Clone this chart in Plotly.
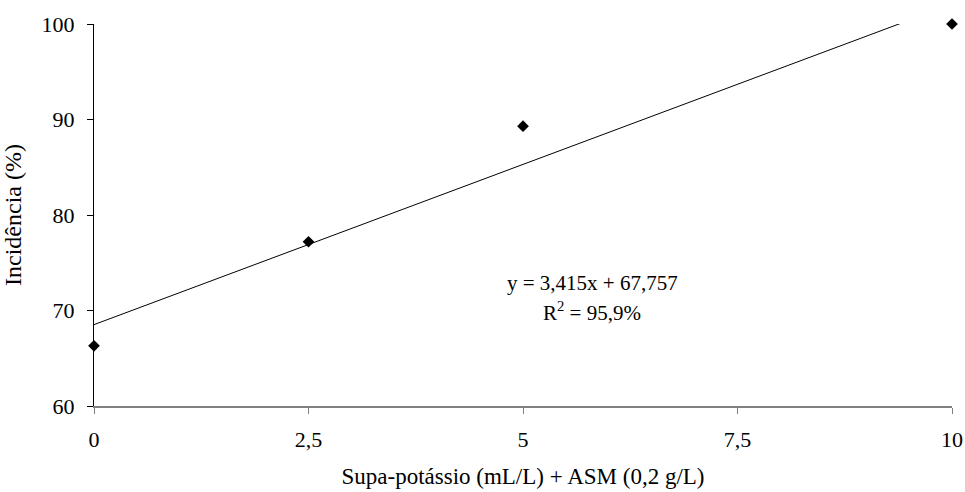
import numpy as np
import plotly.graph_objects as go

dose = [0, 2.5, 5, 10]
incidencia = [66.3, 77.2, 89.3, 100.0]
x_ticks = [0, 2.5, 5, 7.5, 10]
x_tick_labels = ["0", "2,5", "5", "7,5", "10"]
y_ticks = [60, 70, 80, 90, 100]
y_tick_labels = ["60", "70", "80", "90", "100"]
eq_text = "y = 3,415x + 67,757"
r2_text = "R<sup>2</sup> = 95,9%"

slope, intercept = np.polyfit(dose, incidencia, 1)
line_x = [0, 10]
line_y = [intercept + slope * v for v in line_x]

FONT = "Liberation Serif, Times New Roman, serif"

fig = go.Figure()
fig.add_trace(go.Scatter(x=line_x, y=line_y, mode="lines",
                         line=dict(color="black", width=1), hoverinfo="skip",
                         showlegend=False))
fig.add_trace(go.Scatter(x=dose, y=incidencia, mode="markers",
                         marker=dict(symbol="diamond", size=9, color="black"),
                         cliponaxis=False, showlegend=False))

fig.add_annotation(text=eq_text, xref="paper", yref="paper",
                   x=(592 - 94) / 858, y=(406 - 283) / 382, showarrow=False,
                   font=dict(family=FONT, size=21, color="black"),
                   xanchor="center", yanchor="middle")
fig.add_annotation(text=r2_text, xref="paper", yref="paper",
                   x=(592 - 94) / 858, y=(406 - 311) / 382, showarrow=False,
                   font=dict(family=FONT, size=21, color="black"),
                   xanchor="center", yanchor="middle")

fig.update_layout(
    width=965, height=492,
    margin=dict(l=94, r=13, t=24, b=86),
    paper_bgcolor="white", plot_bgcolor="white",
    font=dict(family=FONT, size=20, color="black"),
    xaxis=dict(range=[0, 10], tickvals=x_ticks, ticktext=x_tick_labels,
               automargin=False,
               showgrid=False, zeroline=False, showline=True,
               linecolor="#808080", linewidth=1.5, ticks="outside",
               tickcolor="#808080", ticklen=6, tickwidth=1,
               ticklabelstandoff=7,
               tickfont=dict(family=FONT, size=22, color="black"),
               title=dict(text="Supa-potássio (mL/L) + ASM (0,2 g/L)",
                          font=dict(family=FONT, size=23, color="black"),
                          standoff=17)),
    yaxis=dict(range=[60, 100], tickvals=y_ticks, ticktext=y_tick_labels,
               automargin=False,
               showgrid=False, zeroline=False, showline=True,
               linecolor="black", linewidth=1, ticks="outside",
               tickcolor="black", ticklen=6, tickwidth=1,
               ticklabelstandoff=8,
               tickfont=dict(family=FONT, size=22, color="black"),
               title=dict(text="Incidência (%)",
                          font=dict(family=FONT, size=24, color="black"),
                          standoff=14)),
)

fig.write_html("out.html",
               config={"displayModeBar": False},
               post_script="document.body.style.margin='0';document.body.style.padding='0';")
